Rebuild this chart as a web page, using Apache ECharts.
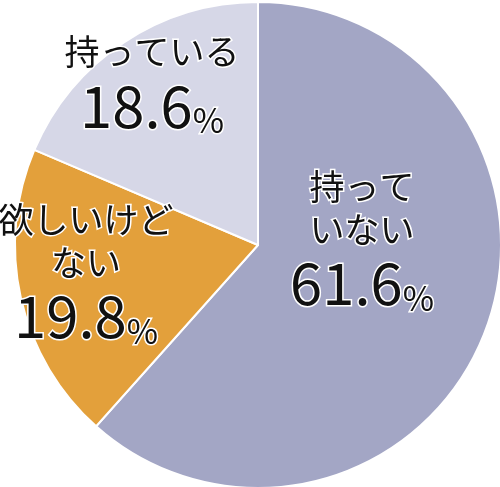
<!DOCTYPE html>
<html><head><meta charset="utf-8">
<script src="https://cdn.jsdelivr.net/npm/echarts@6/dist/echarts.min.js"></script>
<style>html,body{margin:0;padding:0;background:#fff}#c{width:500px;height:487px}</style>
</head><body><div id="c"></div>
<script>
const categories = ['持って\nいない', '欲しいけど\nない', '持っている'];
const values = [61.6, 19.8, 18.6];
const colors = ['#a3a6c5', '#e3a03b', '#d6d7e7'];
const labelPos = [[362, 240], [86, 273], [152, 84]];
const chart = echarts.init(document.getElementById('c'));
const tb = { fontFamily: 'Noto Sans CJK JP', color: '#111', textBorderColor: '#fff', textBorderWidth: 3 };
chart.setOption({
  animation: false,
  series: [{
    type: 'pie',
    center: [258, 245],
    radius: 243,
    startAngle: 90,
    clockwise: true,
    data: categories.map((n, i) => ({ name: n, value: values[i], itemStyle: { color: colors[i] } })),
    itemStyle: { borderColor: '#fff', borderWidth: 2 },
    label: Object.assign({
      position: 'inside',
      align: 'center',
      formatter: p => p.name.split('\n').map(s => '{n|' + s + '}').join('\n') + '\n{v|' + p.value.toFixed(1) + '}{p|%}',
      rich: {
        n: Object.assign({ fontSize: 35, lineHeight: 43 }, tb),
        v: Object.assign({ fontSize: 58, lineHeight: 64 }, tb),
        p: Object.assign({ fontSize: 34, lineHeight: 64, verticalAlign: 'bottom' }, tb)
      }
    }, tb),
    labelLine: { show: false },
    labelLayout: p => ({ x: labelPos[p.dataIndex][0], y: labelPos[p.dataIndex][1], align: 'center', verticalAlign: 'middle' })
  }]
});
</script></body></html>
